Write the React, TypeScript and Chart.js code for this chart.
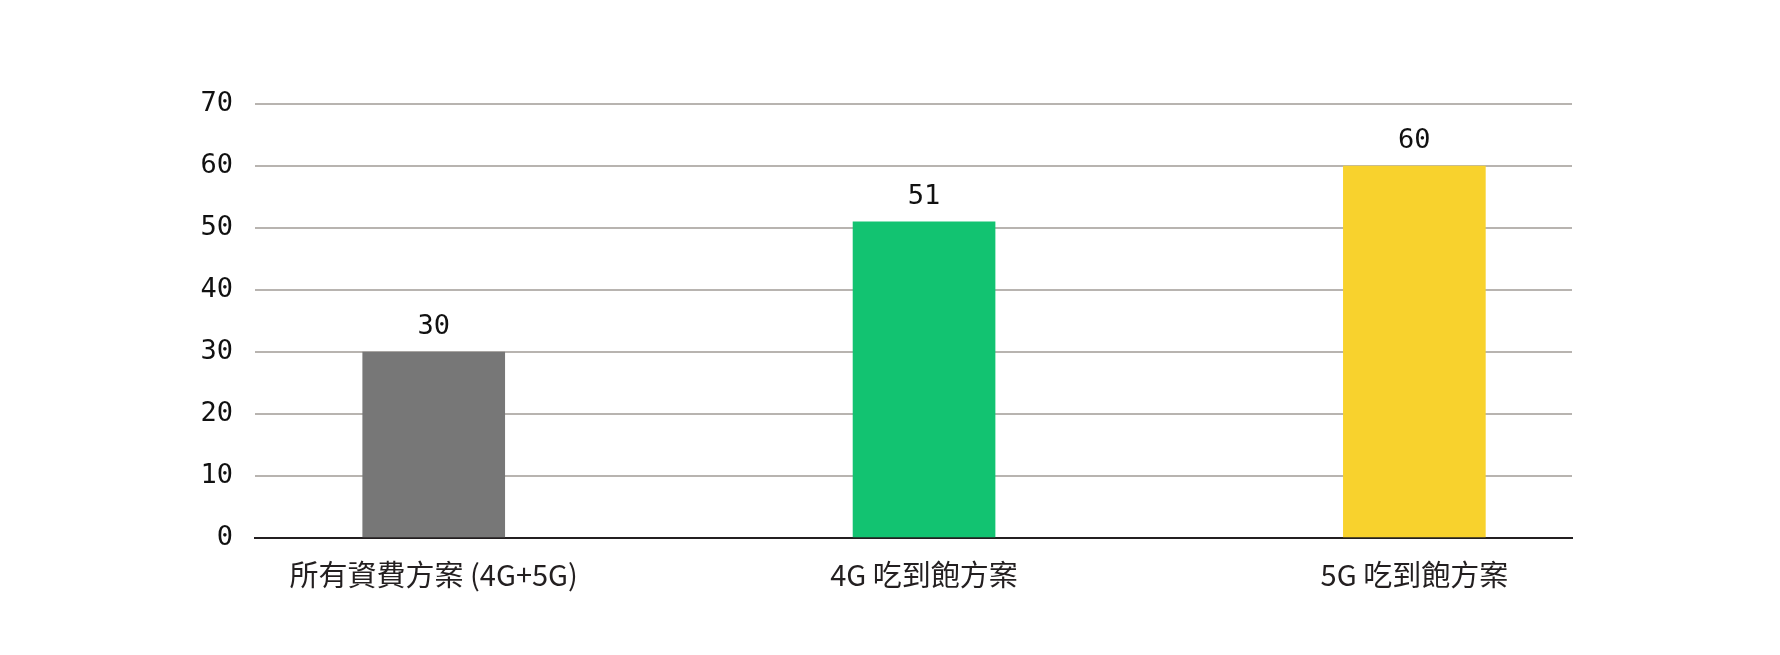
import { useEffect, useRef } from "react"
import { Chart, registerables } from "chart.js"

Chart.register(...registerables)

const categories = ["所有資費方案 (4G+5G)", "4G 吃到飽方案", "5G 吃到飽方案"]
const values = [30, 51, 60]
const barColors = ["#777777", "#12c371", "#f8d22d"]
const yTicks = [0, 10, 20, 30, 40, 50, 60, 70]

const valueLabels = {
  id: "valueLabels",
  afterDatasetsDraw(chart: Chart) {
    const ctx = chart.ctx
    const meta = chart.getDatasetMeta(0)
    ctx.save()
    ctx.font = "27px 'DejaVu Sans Mono'"
    ctx.fillStyle = "#111111"
    ctx.textAlign = "center"
    ctx.textBaseline = "middle"
    meta.data.forEach((bar: any, i: number) => {
      ctx.fillText(String(values[i]), bar.x, bar.y - 25)
    })
    ctx.restore()
  },
}

export default function App() {
  const chartRef = useRef<HTMLCanvasElement>(null)
  const chartInstance = useRef<Chart | null>(null)

  useEffect(() => {
    document.body.style.margin = "0"
    if (!chartRef.current) return

    if (chartInstance.current) {
      chartInstance.current.destroy()
    }

    const ctx = chartRef.current.getContext("2d")
    if (!ctx) return

    chartInstance.current = new Chart(ctx, {
      type: "bar",
      data: {
        datasets: [
          {
            data: values.map((v, i) => ({ x: i, y: v })),
            backgroundColor: barColors,
            barThickness: 142,
          },
        ],
      },
      options: {
        animation: false,
        responsive: false,
        maintainAspectRatio: false,
        layout: {
          padding: { top: 104, left: 0, right: 208, bottom: 0 },
        },
        plugins: {
          legend: { display: false },
          tooltip: { enabled: false },
        },
        scales: {
          x: {
            type: "linear",
            min: -0.3645,
            max: 2.3215,
            offset: false,
            z: 1,
            afterBuildTicks: (scale: any) => {
              scale.ticks = categories.map((_, i) => ({ value: i }))
            },
            afterFit: (scale: any) => {
              scale.height = 117
            },
            grid: { display: false, drawTicks: false },
            border: { display: true, color: "#231f20", width: 2 },
            ticks: {
              padding: 20,
              color: "#231f20",
              font: { family: "'Noto Sans CJK TC'", size: 29 },
              callback: (v: any) => categories[v] ?? "",
            },
          },
          y: {
            min: 0,
            max: 70,
            afterBuildTicks: (scale: any) => {
              scale.ticks = yTicks.map((v) => ({ value: v }))
            },
            afterFit: (scale: any) => {
              scale.width = 255
            },
            border: { display: false },
            grid: {
              color: "#b8b4b0",
              lineWidth: 2,
              drawTicks: false,
            },
            ticks: {
              padding: 22,
              color: "#111111",
              font: { family: "'DejaVu Sans Mono'", size: 27 },
            },
          },
        },
      },
      plugins: [valueLabels],
    })

    return () => {
      if (chartInstance.current) {
        chartInstance.current.destroy()
        chartInstance.current = null
      }
    }
  }, [])

  return (
    <div style={{ width: 1780, height: 655, background: "#ffffff" }}>
      <canvas ref={chartRef} width={1780} height={655} style={{ width: 1780, height: 655 }} />
    </div>
  )
}
